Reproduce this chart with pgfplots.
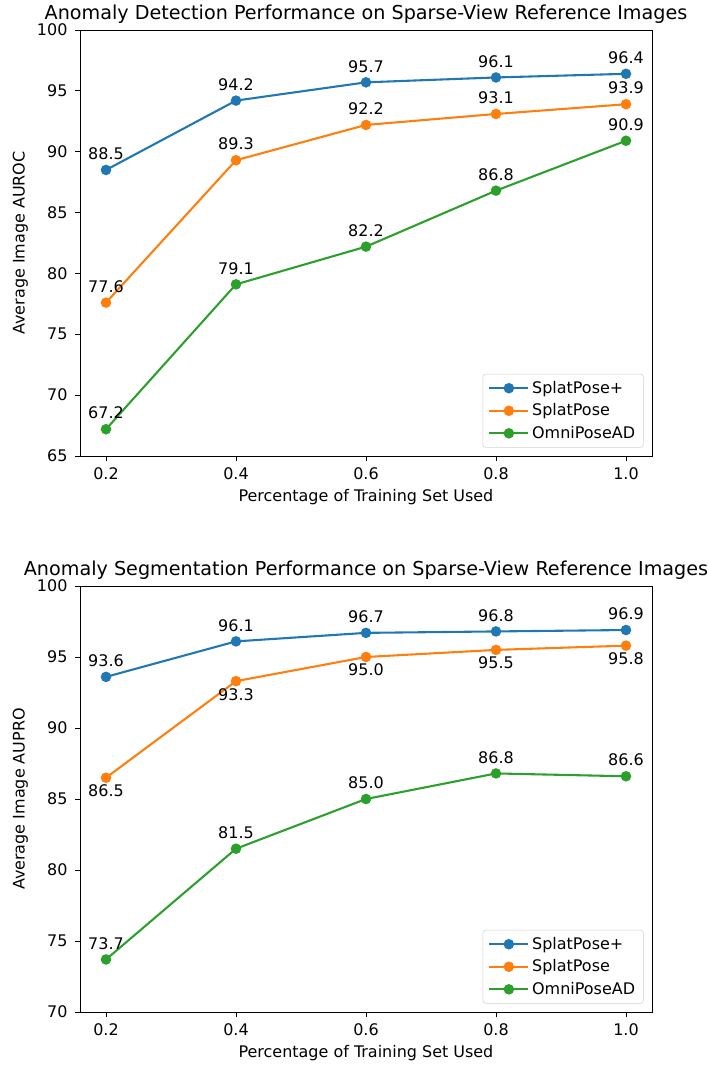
\documentclass[border=0pt]{standalone}
\usepackage{fontspec}
\setmainfont{DejaVu Sans}
\usepackage{pgfplots}
\pgfplotsset{compat=1.18}
\definecolor{tabblue}{HTML}{1F77B4}
\definecolor{taborange}{HTML}{FF7F0E}
\definecolor{tabgreen}{HTML}{2CA02C}
\newcommand{\fs}{\fontsize{11.5}{13.8}\selectfont}
\pgfplotsset{
  /pgf/number format/assume math mode=true,
  every axis title/.style={at={(0.5,1)}, anchor=south, inner sep=0pt, yshift=4.5pt, font=\fontsize{13.8}{16.5}\selectfont},
  myaxis/.style={
    scale only axis, width=411.84pt, height=306.72pt,
    xmin=0.16, xmax=1.04,
    xtick={0.2,0.4,0.6,0.8,1.0},
    tick align=outside, major tick length=3.5pt,
    tick style={black, line width=0.6pt},
    axis line style={line width=0.6pt},
    xtick pos=bottom, ytick pos=left,
    xticklabel style={/pgf/number format/fixed, /pgf/number format/fixed zerofill, /pgf/number format/precision=1, yshift=-1.5pt},
    ticklabel style={font=\fs},
    yticklabel style={xshift=-2pt},
    label style={font=\fs},
    xlabel style={at={(axis description cs:0.5,0)}, anchor=center, yshift=-29.5pt},
    ylabel style={at={(axis description cs:0,0.5)}, anchor=center, yshift=43pt},
    legend style={at={(1,0)}, anchor=south east, xshift=-6pt, yshift=6pt,
      draw=black!18, rounded corners=2pt, font=\fs,
      row sep=2pt, inner xsep=4pt, inner ysep=3pt, cells={anchor=west}},
    legend image code/.code={\draw[mark repeat=2,mark phase=2] plot coordinates {(0pt,0pt) (14pt,0pt) (28pt,0pt)};},
    every axis plot/.append style={line width=1.5pt, mark=*, mark size=3pt, mark options={solid}},
    nodes near coords,
    every node near coord/.append style={font=\fs, text=black, inner sep=0pt, anchor=south, yshift=6.5pt,
      /pgf/number format/fixed, /pgf/number format/fixed zerofill, /pgf/number format/precision=1},
  }
}
\begin{document}
\begin{tikzpicture}
\path[use as bounding box] (-57.6pt,-439.2pt) rectangle (452.88pt,328.32pt);
\begin{axis}[myaxis, at={(0pt,0pt)}, anchor=south west,
  ymin=65, ymax=100, ytick={65,70,75,80,85,90,95,100},
  title={Anomaly Detection Performance on Sparse-View Reference Images},
  xlabel={Percentage of Training Set Used}, ylabel={Average Image AUROC}]
\addplot[color=tabblue] coordinates {(0.2,88.5) (0.4,94.2) (0.6,95.7) (0.8,96.1) (1.0,96.4)};
\addlegendentry{SplatPose+}
\addplot[color=taborange] coordinates {(0.2,77.6) (0.4,89.3) (0.6,92.2) (0.8,93.1) (1.0,93.9)};
\addlegendentry{SplatPose}
\addplot[color=tabgreen] coordinates {(0.2,67.2) (0.4,79.1) (0.6,82.2) (0.8,86.8) (1.0,90.9)};
\addlegendentry{OmniPoseAD}
\end{axis}
\begin{axis}[myaxis, at={(0pt,-400.32pt)}, anchor=south west,
  ymin=70, ymax=100, ytick={70,75,80,85,90,95,100},
  title={Anomaly Segmentation Performance on Sparse-View Reference Images},
  xlabel={Percentage of Training Set Used}, ylabel={Average Image AUPRO}]
\addplot[color=tabblue] coordinates {(0.2,93.6) (0.4,96.1) (0.6,96.7) (0.8,96.8) (1.0,96.9)};
\addlegendentry{SplatPose+}
\addplot[color=taborange, every node near coord/.append style={anchor=north, yshift=-10.8pt}] coordinates {(0.2,86.5) (0.4,93.3) (0.6,95.0) (0.8,95.5) (1.0,95.8)};
\addlegendentry{SplatPose}
\addplot[color=tabgreen] coordinates {(0.2,73.7) (0.4,81.5) (0.6,85.0) (0.8,86.8) (1.0,86.6)};
\addlegendentry{OmniPoseAD}
\end{axis}
\end{tikzpicture}
\end{document}
